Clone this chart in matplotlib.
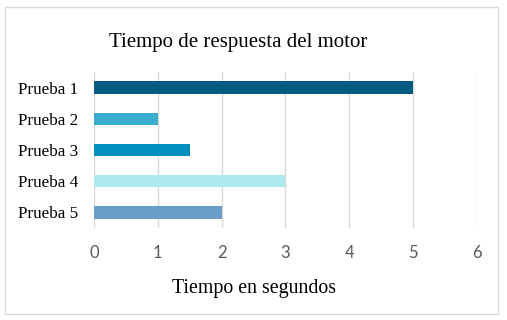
import matplotlib
matplotlib.use("Agg")
from matplotlib import pyplot as plt
from matplotlib.patches import Rectangle

# Tiempo de respuesta del motor

pruebas = ["Prueba 1", "Prueba 2", "Prueba 3", "Prueba 4", "Prueba 5"]
tiempos = [5, 1, 1.5, 3, 2]
colores = ["#045A80", "#3AADCE", "#0090C0", "#AEE9EE", "#6A9EC8"]
ticks_x = [0, 1, 2, 3, 4, 5, 6]

fig = plt.figure(figsize=(5.07, 3.2), dpi=100)
ax = fig.add_axes([0.1854, 0.2875, 0.7554, 0.4875])

pos = range(len(pruebas))
ax.barh(pos, tiempos, height=0.4, color=colores, zorder=3)
ax.set_ylim(len(pruebas) - 0.5, -0.5)
ax.set_xlim(0, 6)
ax.set_xticks(ticks_x)
ax.set_xticklabels([str(t) for t in ticks_x], fontfamily="Lato", fontsize=12, color="#595959")
ax.set_yticks(pos)
ax.set_yticklabels(pruebas, fontfamily="Liberation Serif", fontsize=12.3, color="black")
ax.tick_params(length=0)
ax.tick_params(axis="x", pad=12)
ax.tick_params(axis="y", pad=11.5)
ax.grid(axis="x", color="#D9D9D9", linewidth=1, zorder=0)
for s in ax.spines.values():
    s.set_visible(False)

fig.text(0.47, 0.866, "Tiempo de respuesta del motor", ha="center", va="center",
         fontfamily="Liberation Serif", fontsize=15)
fig.text(0.50, 0.098, "Tiempo en segundos", ha="center", va="center",
         fontfamily="Liberation Serif", fontsize=14.3)

# borde del grafico
fig.patches.append(Rectangle((5 / 507, 1 - 314 / 320), 493 / 507, 307 / 320,
                             transform=fig.transFigure, fill=False,
                             edgecolor="#D9D9D9", linewidth=1))

fig.savefig("out.png", dpi=100)
